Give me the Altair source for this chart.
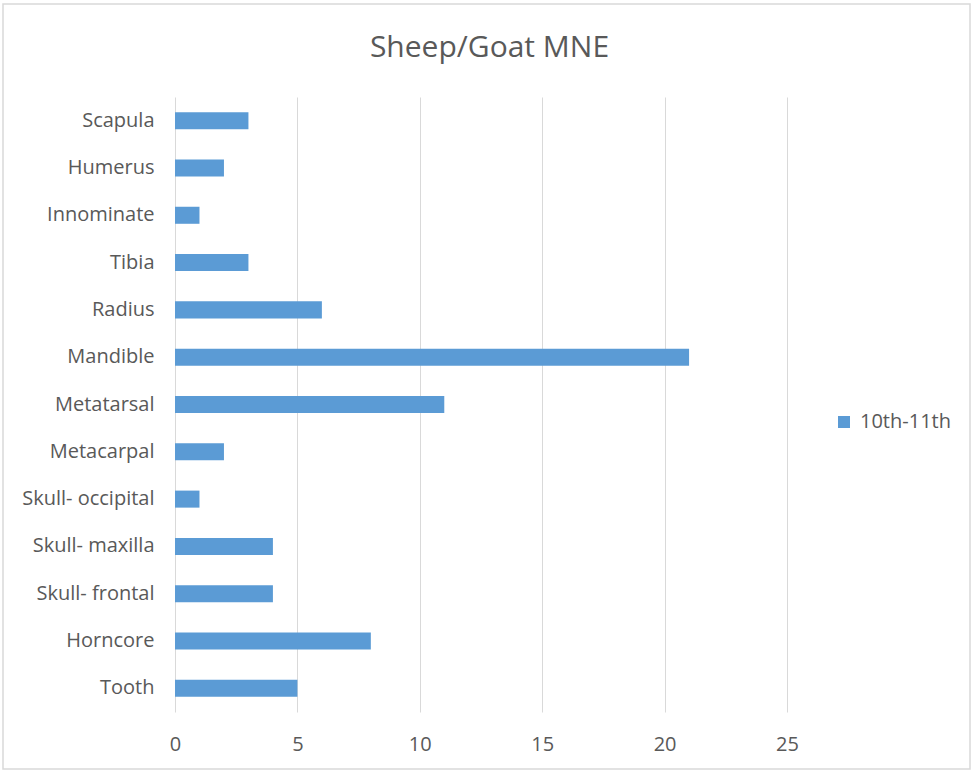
import altair as alt
import pandas as pd

categories = ["Scapula", "Humerus", "Innominate", "Tibia", "Radius", "Mandible",
              "Metatarsal", "Metacarpal", "Skull- occipital", "Skull- maxilla",
              "Skull- frontal", "Horncore", "Tooth"]
values = [3, 2, 1, 3, 6, 21, 11, 2, 1, 4, 4, 8, 5]
series_name = "10th-11th"
x_ticks = [0, 5, 10, 15, 20, 25]
chart_title = "Sheep/Goat MNE"

df = pd.DataFrame({"bone": categories, "mne": values, "series": [series_name] * len(categories)})

FONT = "Open Sans"
TXT = "#595959"
W, H = 612, 615
PL, PT = 175, 97

bars = alt.Chart(df).mark_bar(color="#5b9bd5").encode(
    y=alt.Y("bone:N", sort=categories, title=None,
            scale=alt.Scale(paddingInner=0.64, paddingOuter=0.32),
            axis=alt.Axis(labelFont=FONT, labelFontSize=20, labelColor=TXT,
                          labelPadding=21, ticks=False, domain=False, grid=False)),
    x=alt.X("mne:Q", title=None,
            scale=alt.Scale(domain=[0, 25], nice=False),
            axis=alt.Axis(values=x_ticks, labelFont=FONT, labelFontSize=20, labelColor=TXT,
                          labelPadding=22, labelFlush=False, ticks=False, domain=False,
                          grid=True, gridColor="#d9d9d9", gridWidth=1)),
    color=alt.Color("series:N", title=None,
                    scale=alt.Scale(domain=[series_name], range=["#5b9bd5"]),
                    legend=alt.Legend(orient="none", legendX=659, legendY=315,
                                      symbolType="square", symbolSize=144,
                                      symbolStrokeWidth=0, labelFont=FONT,
                                      labelFontSize=20, labelColor=TXT,
                                      labelOffset=6, padding=0)),
)

border = alt.Chart(alt.Data(values=[{}])).mark_rect(
    fill="transparent", stroke="#d9d9d9", strokeWidth=1.5
).encode(
    x=alt.value(-172), x2=alt.value(795), y=alt.value(-93), y2=alt.value(672)
)

title = alt.Chart(alt.Data(values=[{"t": chart_title}])).mark_text(
    font=FONT, fontSize=30, color=TXT, align="center", baseline="alphabetic"
).encode(
    text="t:N", x=alt.value(314.5), y=alt.value(-40)
)

chart = alt.layer(border, bars, title).properties(
    width=W, height=H,
    autosize=alt.AutoSizeParams(type="none"),
    padding={"left": PL, "top": PT, "right": 974 - PL - W, "bottom": 771 - PT - H},
).configure(background="white").configure_view(stroke=None)

chart.save("out.html", embed_options={"renderer": "svg", "actions": False})
